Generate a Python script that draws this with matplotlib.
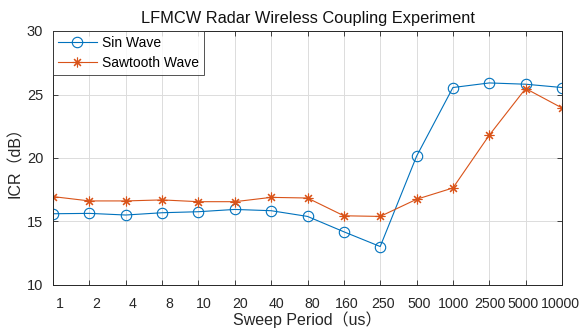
import numpy as np
import matplotlib
matplotlib.use("Agg")
import matplotlib.pyplot as plt
import matplotlib.transforms as mtransforms

plt.rcParams["font.family"] = ["Liberation Sans", "Noto Sans CJK SC", "DejaVu Sans"]

# data
periods = ["1", "2", "4", "8", "10", "20", "40", "80", "160", "250",
           "500", "1000", "2500", "5000", "10000"]
sin_wave = [15.61, 15.64, 15.51, 15.69, 15.77, 15.95, 15.85, 15.40, 14.19, 13.03,
            20.14, 25.55, 25.91, 25.81, 25.55]
sawtooth_wave = [16.96, 16.62, 16.62, 16.70, 16.56, 16.56, 16.90, 16.85, 15.45, 15.40,
                 16.75, 17.64, 21.80, 25.47, 23.94]

blue = "#0072BD"
orange = "#D95319"
dark = "#262626"

fig = plt.figure(figsize=(5.8, 3.28), dpi=100)
ax = fig.add_axes([53 / 580, 43 / 328, 509 / 580, 254 / 328])

x = np.arange(1, len(periods) + 1)
ax.plot(x, sin_wave, color=blue, lw=0.8, marker="o", ms=7.5, mfc="none",
        mew=0.8, label="Sin Wave")
ax.plot(x, sawtooth_wave, color=orange, lw=0.8, marker=(8, 2, 0), ms=7,
        mew=0.8, label="Sawtooth Wave")

ax.set_xlim(1, len(periods))
ax.set_ylim(10, 30)
ax.set_xticks(x)
ax.set_xticklabels(periods)
ax.set_yticks([10, 15, 20, 25, 30])

ax.grid(True, color="#dcdcdc", lw=0.7)
ax.set_axisbelow(True)
ax.tick_params(direction="in", length=3.5, width=0.6, colors=dark,
               labelsize=10.5, top=True, right=True)
ax.tick_params(axis="x", pad=9, labelsize=10.2)
ax.tick_params(axis="y", pad=7)
for s in ax.spines.values():
    s.set_color(dark)
    s.set_linewidth(0.7)

# MATLAB-like slight rightward shift of the category labels
shift = {"5000": -0.03, "10000": -0.02}
for lab in ax.get_xticklabels():
    t = lab.get_text()
    dx = shift.get(t, (9 - 2 * len(t)) / 100)
    lab.set_transform(lab.get_transform() +
                      mtransforms.ScaledTranslation(dx, 0, fig.dpi_scale_trans))

ax.set_title("LFMCW Radar Wireless Coupling Experiment", fontsize=11.8,
             color="#111111", pad=6)
ax.set_xlabel("Sweep Period（us）", fontsize=11.5, color=dark, labelpad=0)
ax.set_ylabel("ICR（dB）", fontsize=11.5, color=dark, labelpad=3)

leg = ax.legend(loc="upper left", fontsize=10, frameon=True, fancybox=False,
                borderaxespad=0, handlelength=2.8, borderpad=0.35,
                labelspacing=0.45, handletextpad=0.4)
leg.get_frame().set_edgecolor(dark)
leg.get_frame().set_linewidth(0.7)

fig.savefig("out.png", dpi=100)
